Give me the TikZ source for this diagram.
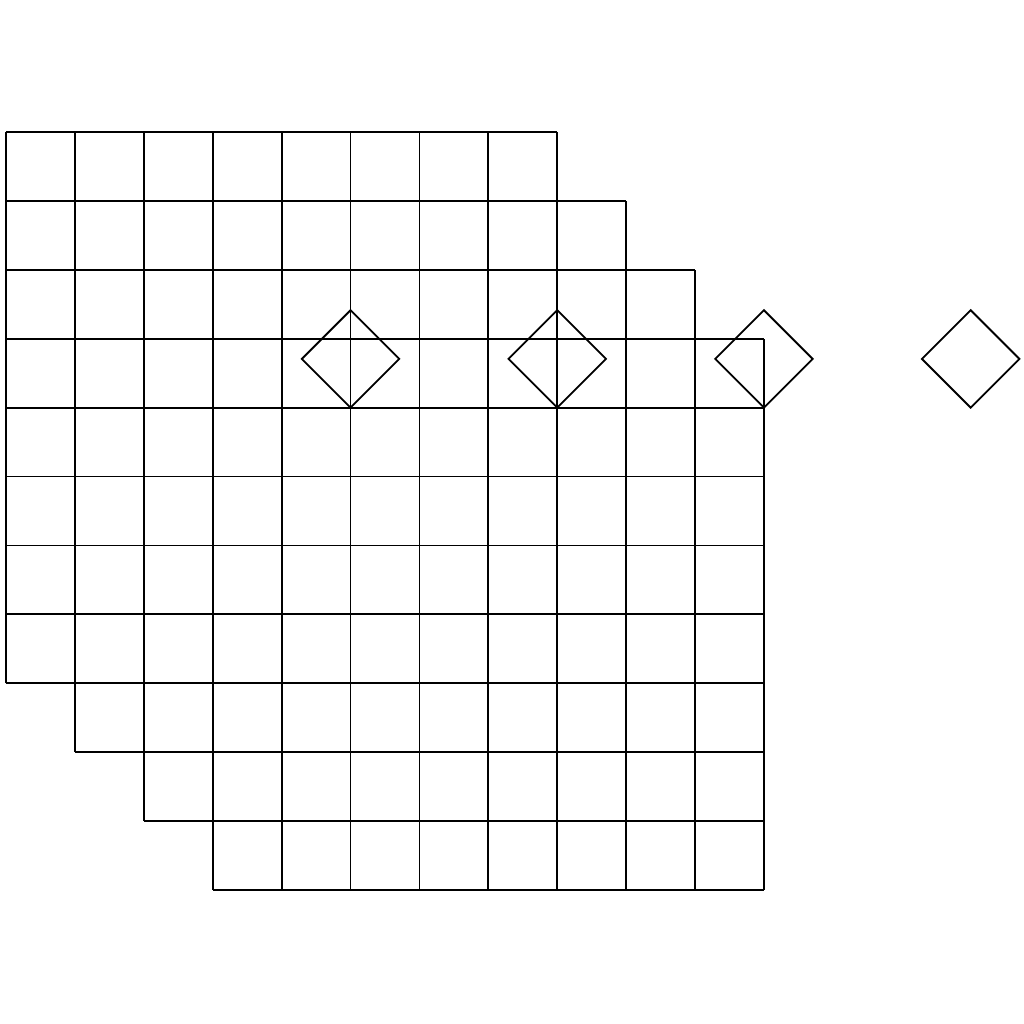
\documentclass[tikz,border=0pt]{standalone}
\usepackage{tikz}

\begin{document}
\begin{tikzpicture}[line width=0.75pt]
\useasboundingbox (-0.087,-1.945) rectangle (14.773,12.916);
% four 8x8 boards, each shifted one cell down and right
\foreach \s in {0,1,2,3}
  \draw[shift={(\s,-\s)}] (0,3) grid (8,11);
% tilted squares
\foreach \x in {5,8,11,14}
  \draw[rotate around={45:(\x,7)}] (\x,7) rectangle ++(1,1);
\end{tikzpicture}
\end{document}
